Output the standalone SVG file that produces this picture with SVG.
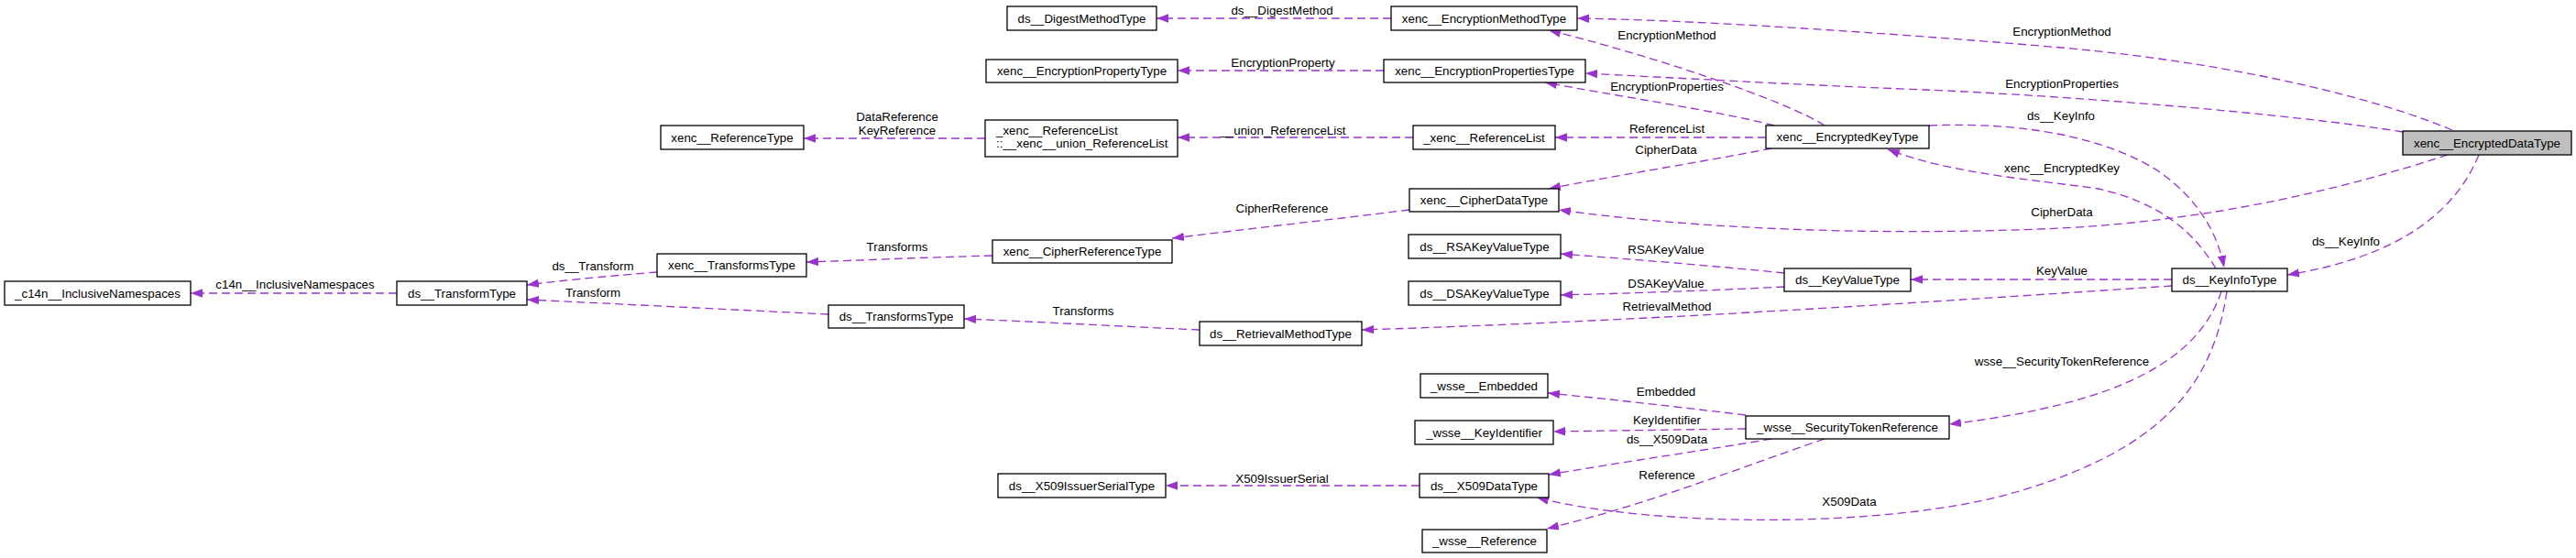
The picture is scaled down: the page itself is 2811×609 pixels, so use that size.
<svg xmlns="http://www.w3.org/2000/svg" width="2811" height="609" viewBox="0 0 2811 609">
<style>
.node rect{fill:#fff;stroke:#000;stroke-width:1.3}
.node rect.main{fill:#bfbfbf}
text{font-family:"Liberation Sans",Arial,Helvetica,sans-serif;font-size:13.33px;fill:#000}
.node text,.lbl{text-anchor:middle}
.node text.left{text-anchor:start}
.edges path{fill:none;stroke:#9a32cd;stroke-width:1.3;stroke-dasharray:9,5;marker-end:url(#ah)}
</style>
<defs>
<marker id="ah" markerUnits="userSpaceOnUse" markerWidth="14" markerHeight="10" refX="13" refY="5" orient="auto" viewBox="0 0 14 10">
<path d="M0,0.3 L13,5 L0,9.7z" fill="#9a32cd" stroke="none"/>
</marker>
</defs>
<rect width="2811" height="609" fill="#fff"/>

<g id="connectors" class="edges">
<path d="M433,320 L208,320"/>
<path d="M717,297 C680,300 620,305 575,311"/>
<path d="M904,343 C800,338 680,332 575,327"/>
<path d="M1083,279 C1010,281 940,284 880,286"/>
<path d="M1309,360 C1220,356 1130,351 1052,348"/>
<path d="M1538,229 C1450,240 1360,250 1279,260"/>
<path d="M1933,162 C1850,178 1760,192 1690,206"/>
<path d="M2671,169 C2560,205 2420,240 2250,249 C2050,258 1850,250 1701,229"/>
<path d="M1927,150 L1697,150"/>
<path d="M1542,150 L1285,150"/>
<path d="M1075,151 L877,151"/>
<path d="M1518,20 L1262,20"/>
<path d="M1510,77 L1285,77"/>
<path d="M1991,137 C1950,110 1800,60 1690,33"/>
<path d="M1936,137 C1880,122 1760,104 1686,90"/>
<path d="M2676,142 C2600,110 2450,70 2250,52 C2050,35 1850,22 1721,20"/>
<path d="M2622,144 C2500,124 2250,104 2100,98 C1950,92 1830,85 1730,80"/>
<path d="M2105,137 C2220,132 2310,155 2360,190 C2400,220 2420,255 2427,292"/>
<path d="M2418,293 C2395,255 2360,222 2290,206 C2220,196 2130,190 2060,163"/>
<path d="M2705,169 C2680,230 2620,280 2496,300"/>
<path d="M2370,305 L2085,305"/>
<path d="M2370,312 C2100,330 1800,350 1486,360"/>
<path d="M1947,298 C1870,290 1780,283 1703,277"/>
<path d="M1947,313 C1870,317 1780,320 1703,322"/>
<path d="M2424,318 C2400,390 2320,440 2127,463"/>
<path d="M2430,318 C2415,420 2360,490 2200,537 C2060,578 1800,575 1677,543"/>
<path d="M1905,453 C1830,444 1760,436 1689,429"/>
<path d="M1905,468 C1830,469 1760,470 1695,471"/>
<path d="M1933,479 C1850,493 1760,506 1690,518"/>
<path d="M1991,479 C1900,510 1800,550 1688,577"/>
<path d="M1549,530 L1272,530"/>
</g>

<g id="labels">
<text class="lbl" x="322" y="315">c14n__InclusiveNamespaces</text>
<text class="lbl" x="647" y="295">ds__Transform</text>
<text class="lbl" x="647" y="324">Transform</text>
<text class="lbl" x="979" y="274">Transforms</text>
<text class="lbl" x="1182" y="344">Transforms</text>
<text class="lbl" x="1399" y="232">CipherReference</text>
<text class="lbl" x="1818" y="168">CipherData</text>
<text class="lbl" x="2250" y="236">CipherData</text>
<text class="lbl" x="1819" y="145">ReferenceList</text>
<text class="lbl" x="1400" y="147">__union_ReferenceList</text>
<text class="lbl" x="979" y="132">DataReference</text>
<text class="lbl" x="979" y="147">KeyReference</text>
<text class="lbl" x="1399" y="16">ds__DigestMethod</text>
<text class="lbl" x="1400" y="73">EncryptionProperty</text>
<text class="lbl" x="1819" y="43">EncryptionMethod</text>
<text class="lbl" x="1819" y="99">EncryptionProperties</text>
<text class="lbl" x="2250" y="39">EncryptionMethod</text>
<text class="lbl" x="2250" y="96">EncryptionProperties</text>
<text class="lbl" x="2249" y="131">ds__KeyInfo</text>
<text class="lbl" x="2250" y="188">xenc__EncryptedKey</text>
<text class="lbl" x="2560" y="268">ds__KeyInfo</text>
<text class="lbl" x="2250" y="300">KeyValue</text>
<text class="lbl" x="1819" y="339">RetrievalMethod</text>
<text class="lbl" x="1818" y="277">RSAKeyValue</text>
<text class="lbl" x="1818" y="314">DSAKeyValue</text>
<text class="lbl" x="2250" y="399">wsse__SecurityTokenReference</text>
<text class="lbl" x="2018" y="552">X509Data</text>
<text class="lbl" x="1818" y="432">Embedded</text>
<text class="lbl" x="1819" y="463">KeyIdentifier</text>
<text class="lbl" x="1819" y="484">ds__X509Data</text>
<text class="lbl" x="1819" y="523">Reference</text>
<text class="lbl" x="1399" y="527">X509IssuerSerial</text>
</g>

<g id="ds__DigestMethodType" class="node"><rect x="1099" y="7" width="163" height="26"/><text x="1180.5" y="24.5">ds__DigestMethodType</text></g>
<g id="xenc__EncryptionMethodType" class="node"><rect x="1518" y="7" width="203" height="26"/><text x="1619.5" y="24.5">xenc__EncryptionMethodType</text></g>
<g id="xenc__EncryptionPropertyType" class="node"><rect x="1076" y="65" width="209" height="25"/><text x="1180.5" y="82">xenc__EncryptionPropertyType</text></g>
<g id="xenc__EncryptionPropertiesType" class="node"><rect x="1510" y="65" width="220" height="25"/><text x="1620" y="82">xenc__EncryptionPropertiesType</text></g>
<g id="xenc__ReferenceType" class="node"><rect x="721" y="137" width="156" height="26"/><text x="799" y="154.5">xenc__ReferenceType</text></g>
<g id="xenc__union_ReferenceList" class="node"><rect x="1075" y="131" width="210" height="40"/><text class="left" x="1087" y="147">_xenc__ReferenceList</text><text class="left" x="1087" y="161">::__xenc__union_ReferenceList</text></g>
<g id="_xenc__ReferenceList" class="node"><rect x="1542" y="137" width="155" height="26"/><text x="1619.5" y="154.5">_xenc__ReferenceList</text></g>
<g id="xenc__EncryptedKeyType" class="node"><rect x="1927" y="137" width="178" height="25"/><text x="2016" y="154">xenc__EncryptedKeyType</text></g>
<g id="xenc__EncryptedDataType" class="node"><rect class="main" x="2622" y="143" width="184" height="26"/><text x="2714" y="160.5">xenc__EncryptedDataType</text></g>
<g id="xenc__CipherDataType" class="node"><rect x="1538" y="206" width="163" height="25"/><text x="1619.5" y="223">xenc__CipherDataType</text></g>
<g id="xenc__CipherReferenceType" class="node"><rect x="1083" y="262" width="196" height="25"/><text x="1181" y="279">xenc__CipherReferenceType</text></g>
<g id="xenc__TransformsType" class="node"><rect x="717" y="277" width="163" height="25"/><text x="798.5" y="294">xenc__TransformsType</text></g>
<g id="ds__RSAKeyValueType" class="node"><rect x="1537" y="256" width="166" height="26"/><text x="1620" y="273.5">ds__RSAKeyValueType</text></g>
<g id="ds__KeyValueType" class="node"><rect x="1947" y="293" width="138" height="25"/><text x="2016" y="310">ds__KeyValueType</text></g>
<g id="ds__KeyInfoType" class="node"><rect x="2370" y="293" width="126" height="25"/><text x="2433" y="310">ds__KeyInfoType</text></g>
<g id="ds__DSAKeyValueType" class="node"><rect x="1537" y="307" width="166" height="26"/><text x="1620" y="324.5">ds__DSAKeyValueType</text></g>
<g id="_c14n__InclusiveNamespaces" class="node"><rect x="5" y="307" width="203" height="26"/><text x="106.5" y="324.5">_c14n__InclusiveNamespaces</text></g>
<g id="ds__TransformType" class="node"><rect x="433" y="307" width="142" height="26"/><text x="504" y="324.5">ds__TransformType</text></g>
<g id="ds__TransformsType" class="node"><rect x="904" y="333" width="148" height="25"/><text x="978" y="350">ds__TransformsType</text></g>
<g id="ds__RetrievalMethodType" class="node"><rect x="1309" y="351" width="177" height="26"/><text x="1397.5" y="368.5">ds__RetrievalMethodType</text></g>
<g id="_wsse__Embedded" class="node"><rect x="1550" y="408" width="139" height="26"/><text x="1619.5" y="425.5">_wsse__Embedded</text></g>
<g id="_wsse__SecurityTokenReference" class="node"><rect x="1905" y="454" width="222" height="25"/><text x="2016" y="471">_wsse__SecurityTokenReference</text></g>
<g id="_wsse__KeyIdentifier" class="node"><rect x="1544" y="459" width="151" height="26"/><text x="1619.5" y="476.5">_wsse__KeyIdentifier</text></g>
<g id="ds__X509IssuerSerialType" class="node"><rect x="1089" y="517" width="183" height="26"/><text x="1180.5" y="534.5">ds__X509IssuerSerialType</text></g>
<g id="ds__X509DataType" class="node"><rect x="1549" y="517" width="141" height="26"/><text x="1619.5" y="534.5">ds__X509DataType</text></g>
<g id="_wsse__Reference" class="node"><rect x="1552" y="578" width="136" height="25"/><text x="1620" y="595">_wsse__Reference</text></g>
</svg>
